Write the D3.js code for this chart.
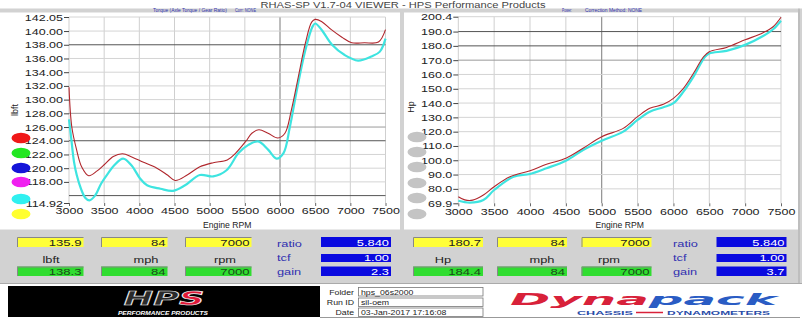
<!DOCTYPE html>
<html><head><meta charset="utf-8">
<script src="https://cdn.jsdelivr.net/npm/d3@7"></script>
<style>body{margin:0;background:#fff}svg{display:block;font-family:Arial,"Liberation Sans",sans-serif}</style>
</head><body><svg id="c" width="810" height="330"></svg>
<script>
// ---------- DATA ----------
const rpmTicks = [3000,3500,4000,4500,5000,5500,6000,6500,7000,7500];
const tqTickLabels = [142.05,140,138,136,134,132,130,128,126,124,122,120,118,114.92];
const tqGrid = [140,138,136,134,132,130,128,126,124,122,120,118,116];
const tqDarkGrid = [138,124,116];
const tqMidGrid = [128,126];
const hpTickLabels = [200.4,190,180,170,160,150,140,130,120,110,100,90,80,69.9];
const hpGrid = [190,180,170,160,150,140,130,120,110,100,90,80];
const hpDarkGrid = [190,180];
const hpMidGrid = [170];
const tqDarkRpm = [6000];
const hpDarkRpm = [5000];

const tqRpmRed = [3000,3040,3110,3180,3280,3400,3500,3630,3760,3900,4050,4250,4400,4510,4680,4860,5050,5250,5370,5520,5600,5700,5830,5970,6070,6160,6260,6360,6450,6500,6590,6730,6880,7020,7200,7400,7500];
const tqRed    = [131.8,126.0,122.6,120.2,118.9,119.6,120.5,121.7,122.1,121.6,120.9,120.0,119.0,118.2,119.0,120.2,120.8,121.2,122.2,124.0,125.1,125.6,125.1,124.4,125.1,128.4,133.3,138.2,141.3,141.7,141.4,140.2,139.1,138.3,138.3,138.4,140.2];
const tqRpmCyan = [3000,3030,3070,3110,3170,3230,3290,3370,3460,3560,3640,3770,3890,4010,4110,4300,4480,4650,4860,5050,5240,5410,5550,5690,5830,5950,6050,6140,6240,6360,6460,6500,6590,6740,6920,7110,7300,7420,7500];
const tqCyan    = [127.1,124.5,121.0,119.0,117.0,115.7,115.3,116.0,117.8,119.3,120.4,121.4,120.4,118.5,117.5,117.0,116.7,117.5,119.0,118.8,119.7,122.2,123.4,123.9,122.7,121.4,122.2,126.0,131.4,137.2,140.6,141.1,140.2,138.0,136.5,135.7,136.3,137.0,138.9];

const hpRpmRed = [3000,3090,3200,3350,3500,3720,4000,4230,4500,4740,5000,5300,5500,5670,5860,6000,6140,6280,6420,6500,6740,7000,7250,7390,7500];
const hpRed    = [74.5,72.3,72.1,75.7,81.5,88.5,92.7,97.2,101.4,108.4,116.5,122.3,130.5,136.3,139.1,143.3,150.3,160.8,172.4,175.9,178.9,184.2,189.2,193.4,200.0];
const hpRpmCyan = [3000,3160,3350,3500,3770,4000,4230,4500,4740,5000,5300,5500,5670,5860,6000,6140,6280,6440,6500,6740,7000,7250,7390,7500];
const hpCyan    = [71.7,70.4,72.2,79.2,88.5,90.4,94.4,99.7,107.2,113.7,120.0,128.2,134.0,137.1,139.9,148.0,158.5,172.4,174.7,176.5,180.7,186.9,191.6,197.6];

const legendColors = ["#f01818","#22e622","#1414d8","#f020f0","#30f0f0","#ffff30"];
const greyLegend = ["#c4c4c4","#c4c4c4","#c4c4c4","#c4c4c4","#c4c4c4","#c4c4c4"];

const unitsL = ["lbft","mph","rpm"], unitsR = ["Hp","mph","rpm"];
const yellowL = ["135.9","84","7000"], greenL = ["138.3","84","7000"];
const yellowR = ["180.7","84","7000"], greenR = ["184.4","84","7000"];
const paramNames = ["ratio","tcf","gain"];
const paramValsL = ["5.840","1.00","2.3"], paramValsR = ["5.840","1.00","3.7"];
const infoLabels = ["Folder","Run ID","Date"];
const infoValues = ["hps_06s2000","sil-oem","03-Jan-2017  17:16:08"];

// ---------- DRAW ----------
const svg = d3.select('#c');
function txt(g,x,y,s,o={}){
  const t=g.append('text').attr('transform',`translate(${x},${y}) scale(${o.sx||1},1)`)
    .attr('font-size',o.size||9).attr('text-anchor',o.anchor||'start').attr('fill',o.fill||'#000').text(s);
  if(o.weight) t.attr('font-weight',o.weight);
  if(o.style) t.attr('font-style',o.style);
  if(o.family) t.attr('font-family',o.family);
  if(o.len) t.attr('textLength',o.len).attr('lengthAdjust','spacingAndGlyphs');
  return t;
}

// frame
svg.append('rect').attr('x',0).attr('y',8.5).attr('width',802).attr('height',275).attr('fill','#d2d2d2');
svg.append('rect').attr('x',0).attr('y',12.5).attr('width',400).attr('height',217).attr('fill','#fff');
svg.append('rect').attr('x',404).attr('y',12.5).attr('width',394).attr('height',217).attr('fill','#fff');
txt(svg,403,8,'RHAS-SP V1.7-04  VIEWER - HPS Performance Products',{size:9.6,anchor:'middle',fill:'#444',len:285});
txt(svg,153,11.6,'Torque (Axle Torque / Gear Ratio)',{size:4.5,fill:'#3434b0',len:74});
txt(svg,235,11.6,'Corr: NONE',{size:4.5,fill:'#3434b0',len:21});
txt(svg,562,11.6,'Power:',{size:4.5,fill:'#3434b0',len:10});
txt(svg,585,11.6,'Correction Method: NONE',{size:4.5,fill:'#3434b0',len:57});

function chart(cfg){
  const g = svg.append('g');
  const x = d3.scaleLinear().domain([3000,7500]).range(cfg.xr);
  const y = d3.scaleLinear().domain(cfg.yd).range(cfg.yr);
  const [x0,x1]=cfg.xr, [yb,yt]=cfg.yr;
  g.selectAll('.vg').data(rpmTicks).join('line')
    .attr('x1',d=>x(d)).attr('x2',d=>x(d)).attr('y1',yt).attr('y2',yb)
    .attr('stroke',d=>cfg.darkRpm.includes(d)?'#7a7a7a':'#cfcfcf').attr('stroke-width',1);
  g.selectAll('.hg').data(cfg.grid).join('line')
    .attr('x1',x0).attr('x2',x1).attr('y1',d=>y(d)).attr('y2',d=>y(d))
    .attr('stroke',d=>cfg.darkGrid.includes(d)?'#555':(cfg.midGrid.includes(d)?'#9a9a9a':'#d4d4d4')).attr('stroke-width',1);
  g.append('line').attr('x1',x0).attr('x2',x1).attr('y1',yt).attr('y2',yt).attr('stroke','#d4d4d4');
  const sx=1.33;
  const ay=g.append('g').attr('transform',`translate(${x0},0)`)
    .call(d3.axisLeft(y).tickValues(cfg.labels).tickFormat(d=>d.toFixed(cfg.dec)).tickSize(5));
  ay.select('.domain').remove();
  ay.selectAll('line').attr('stroke','#444');
  ay.selectAll('text').attr('x',-6/sx).attr('transform',`scale(${sx},1)`).attr('font-size',9.4)
    .attr('fill','#222').attr('font-family','Arial, Liberation Sans');
  const ax=g.append('g').attr('transform',`translate(0,${yb})`)
    .call(d3.axisBottom(x).tickValues(rpmTicks).tickFormat(d3.format('d')).tickSize(3));
  ax.select('.domain').remove();
  ax.selectAll('line').attr('stroke','#666');
  ax.selectAll('text').attr('y',4.6).attr('transform',`scale(${sx},1)`).attr('font-size',9.4)
    .attr('fill','#222').attr('font-family','Arial, Liberation Sans');
  txt(g,(x0+x1)/2,227.5,'Engine RPM',{size:9.6,anchor:'middle',sx:0.9,fill:'#222'});
  g.append('text').attr('transform',`translate(${cfg.ylabX},${cfg.ylabY}) rotate(-90)`)
    .attr('text-anchor','middle').attr('font-size',9).attr('fill','#222').text(cfg.ylab);
  const line=(xs,ys)=>d3.line().x((d,i)=>x(xs[i])).y(d=>y(d)).curve(d3.curveCatmullRom.alpha(0.5))(ys);
  g.append('path').attr('d',line(cfg.cx,cfg.cy)).attr('fill','none').attr('stroke','#3ee4e0').attr('stroke-width',2.2);
  g.append('path').attr('d',line(cfg.rx,cfg.ry)).attr('fill','none').attr('stroke','#b0262c').attr('stroke-width',1.1);
  g.selectAll('.lg').data(cfg.legend).join('ellipse')
    .attr('cx',cfg.legX).attr('cy',(d,i)=>cfg.legY[i]).attr('rx',9.5).attr('ry',5.3).attr('fill',d=>d);
}
chart({xr:[69,385.5],yd:[114.92,142.05],yr:[203,17],grid:tqGrid,darkGrid:tqDarkGrid,midGrid:tqMidGrid,darkRpm:tqDarkRpm,
  labels:tqTickLabels,dec:2,ylab:'lbft',ylabX:18,ylabY:110,rx:tqRpmRed,ry:tqRed,cx:tqRpmCyan,cy:tqCyan,
  legend:legendColors,legX:21,legY:[138,153,168,182,199,214]});
chart({xr:[458.3,781],yd:[69.9,200.4],yr:[203.3,16.7],grid:hpGrid,darkGrid:hpDarkGrid,midGrid:hpMidGrid,darkRpm:hpDarkRpm,
  labels:hpTickLabels,dec:1,ylab:'Hp',ylabX:414,ylabY:107,rx:hpRpmRed,ry:hpRed,cx:hpRpmCyan,cy:hpCyan,
  legend:greyLegend,legX:417,legY:[137,152,167,183,198,214]});

svg.append('line').attr('x1',799).attr('x2',799).attr('y1',8.5).attr('y2',283).attr('stroke','#aaa');
svg.append('line').attr('x1',0).attr('x2',802).attr('y1',283.5).attr('y2',283.5).attr('stroke','#aaa');

function readout(o){
  const g=svg.append('g');
  const box=(x,y,w,h,fill)=>{
    g.append('rect').attr('x',x).attr('y',y).attr('width',w).attr('height',h).attr('fill',fill);
    g.append('path').attr('d',`M${x+0.5},${y+h}V${y+0.5}H${x+w}`).attr('fill','none').attr('stroke','#888');
  };
  o.bx.forEach((bx,i)=>{
    box(bx,237,o.bw,10,'#ffff38');
    txt(g,bx+o.bw-2,246,o.yellow[i],{size:9.5,anchor:'end',sx:1.38,fill:'#222'});
    box(bx,266.5,o.bw,9.5,'#30dd30');
    txt(g,bx+o.bw-2,275.3,o.green[i],{size:9.5,anchor:'end',sx:1.38,fill:'#1a4a1a'});
    txt(g,o.ux[i],262.5,o.units[i],{size:9.5,anchor:'middle',sx:1.35,fill:'#222'});
  });
  const py=[237,254,266.5], ph=[10,8,9.5], pb=[246.5,261.2,275];
  paramNames.forEach((p,i)=>{
    txt(g,o.px,pb[i],p,{size:9.5,sx:1.35,fill:'#3030b0'});
    g.append('rect').attr('x',o.vx).attr('y',py[i]).attr('width',70).attr('height',ph[i]).attr('fill','#0a0ae0');
    txt(g,o.vx+68,py[i]+ph[i]-1,o.vals[i],{size:9.2,anchor:'end',sx:1.4,fill:'#fff'});
  });
}
readout({bx:[17,101,185],bw:66.5,yellow:yellowL,green:greenL,units:unitsL,ux:[51,146,225],px:277,vx:321,vals:paramValsL});
readout({bx:[413,497,581.5],bw:70,yellow:yellowR,green:greenR,units:unitsR,ux:[443,542,609],px:673,vx:716.5,vals:paramValsR});

// footer
const f=svg.append('g');
f.append('rect').attr('x',8).attr('y',286).attr('width',312).attr('height',31).attr('fill','#000');
const hps=f.append('text').attr('transform','translate(164,304.5) scale(1.85,1)').attr('text-anchor','middle')
  .attr('font-size',19).attr('font-weight','bold').attr('font-style','italic').attr('font-family','DejaVu Sans');
hps.append('tspan').text('HP').attr('fill','#2a2a2a').attr('stroke','#e8e8e8').attr('stroke-width',0.7);
hps.append('tspan').text('S').attr('fill','#e01838').attr('stroke','#f0f0f0').attr('stroke-width',0.7);
txt(f,163,314.5,'PERFORMANCE PRODUCTS',{size:5.5,anchor:'middle',fill:'#fff',style:'italic',weight:'bold',len:90});
infoLabels.forEach((l,i)=>{
  const by=[287.5,298,308][i];
  txt(f,354,by+7,l,{size:7,anchor:'end',sx:1.25,fill:'#222'});
  f.append('rect').attr('x',358.5).attr('y',by).attr('width',124.5).attr('height',8.5).attr('fill','#fff').attr('stroke','#777').attr('stroke-width',0.8);
  txt(f,361,by+7,infoValues[i],{size:7,sx:1.25,fill:'#222'});
});
f.append('line').attr('x1',320).attr('x2',800).attr('y1',317.5).attr('y2',317.5).attr('stroke','#999');
const dp=f.append('text').attr('x',510).attr('y',305).attr('font-size',16).attr('font-weight','900')
  .attr('font-style','italic').attr('font-family','DejaVu Sans').attr('textLength',267).attr('lengthAdjust','spacingAndGlyphs');
dp.append('tspan').text('Dyna').attr('fill','#d8213a');
dp.append('tspan').text('pack').attr('fill','#2a5cc4');
txt(f,577,314.5,'CHASSIS',{size:4.6,fill:'#2a4ca8',weight:'bold',len:56});
txt(f,667,314.5,'DYNAMOMETERS',{size:4.6,fill:'#2a4ca8',weight:'bold',len:103});
f.append('line').attr('x1',636).attr('x2',663).attr('y1',312.5).attr('y2',312.5).attr('stroke','#d8213a').attr('stroke-width',1.5);
</script></body></html>
